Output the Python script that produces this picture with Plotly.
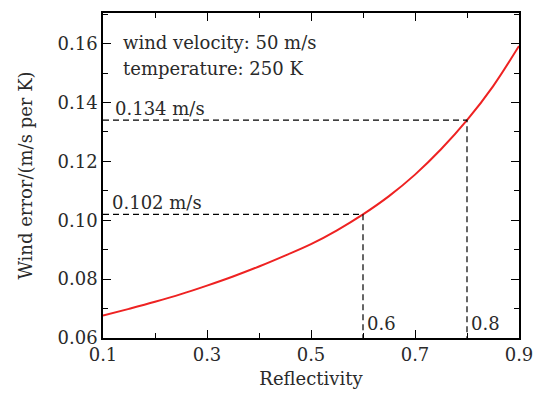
import plotly.graph_objects as go

# Wind error as a function of reflectivity
reflectivity = [0.1, 0.15, 0.2, 0.25, 0.3, 0.35, 0.4, 0.45, 0.5, 0.55,
                0.6, 0.65, 0.7, 0.75, 0.8, 0.85, 0.9]
wind_error = [0.0676, 0.0699, 0.0723, 0.0749, 0.0778, 0.0809, 0.0843, 0.0880, 0.0919, 0.0966,
              0.102, 0.1082, 0.1155, 0.1241, 0.134, 0.1455, 0.1592]

# Marked operating points
mark_r = [0.6, 0.8]
mark_err = [0.102, 0.134]
mark_labels = ["0.102 m/s", "0.134 m/s"]

# Simulation conditions shown in the upper-left corner
conditions = ["wind velocity: 50 m/s", "temperature: 250 K"]

x_ticks = [0.1, 0.3, 0.5, 0.7, 0.9]
y_ticks = [0.06, 0.08, 0.10, 0.12, 0.14, 0.16]

FONT = "DejaVu Serif"
fs = 18
TXT = "#2a2a2a"

fig = go.Figure()

fig.add_trace(go.Scatter(
    x=reflectivity, y=wind_error, mode="lines",
    line=dict(color="#ee2222", width=2, shape="spline", smoothing=1.0),
    showlegend=False, hoverinfo="skip",
))

# Dashed guides from the axes to each marked point
for r, e in zip(mark_r, mark_err):
    fig.add_trace(go.Scatter(
        x=[0.1, r, r], y=[e, e, 0.06], mode="lines",
        line=dict(color="black", width=1.2, dash="6px,4px"),
        showlegend=False, hoverinfo="skip",
    ))

for r, e, lab in zip(mark_r, mark_err, mark_labels):
    fig.add_annotation(x=0.1, y=e, xref="x", yref="y", text=lab,
                       showarrow=False, xanchor="left", yanchor="bottom",
                       xshift=10 if r == 0.8 else 7, yshift=-1,
                       font=dict(family=FONT, size=fs, color=TXT))
    fig.add_annotation(x=r, y=0.06, xref="x", yref="y", text=f"{r:.1f}",
                       showarrow=False, xanchor="left", yanchor="bottom",
                       xshift=2, yshift=2,
                       font=dict(family=FONT, size=fs, color=TXT))

for i, line in enumerate(conditions):
    fig.add_annotation(x=0.1, y=1, xref="x", yref="paper", text=line,
                       showarrow=False, xanchor="left", yanchor="middle", align="left",
                       xshift=18, yshift=-29 - 26 * i,
                       font=dict(family=FONT, size=fs, color=TXT))

axis_common = dict(
    showline=True, linecolor="black", linewidth=1.5, mirror="allticks",
    ticks="inside", ticklen=8, tickwidth=1.2, tickcolor="black",
    showgrid=False, zeroline=False,
    tickfont=dict(family=FONT, size=fs, color=TXT),
)

fig.update_xaxes(
    range=[0.1, 0.9], tickvals=x_ticks, ticktext=[f"{v:.1f}" for v in x_ticks],
    minor=dict(tickvals=[0.2, 0.4, 0.6, 0.8], ticks="inside", ticklen=5,
               tickwidth=1.2, tickcolor="black"),
    title=dict(text="Reflectivity", font=dict(family=FONT, size=fs, color=TXT),
               standoff=8),
    **axis_common,
)
fig.update_yaxes(
    range=[0.06, 0.1704], tickvals=y_ticks, ticktext=[f"{v:.2f}" for v in y_ticks],
    minor=dict(tickvals=[0.07, 0.09, 0.11, 0.13, 0.15, 0.17], ticks="inside",
               ticklen=5, tickwidth=1.2, tickcolor="black"),
    title=dict(text="Wind error/(m/s per K)", font=dict(family=FONT, size=fs, color=TXT),
               standoff=20),
    **axis_common,
)

fig.update_layout(
    width=544, height=397,
    margin=dict(l=103, r=24, t=11, b=57),
    paper_bgcolor="white", plot_bgcolor="white",
    font=dict(family=FONT, size=fs),
)

fig.write_html("out.html")
